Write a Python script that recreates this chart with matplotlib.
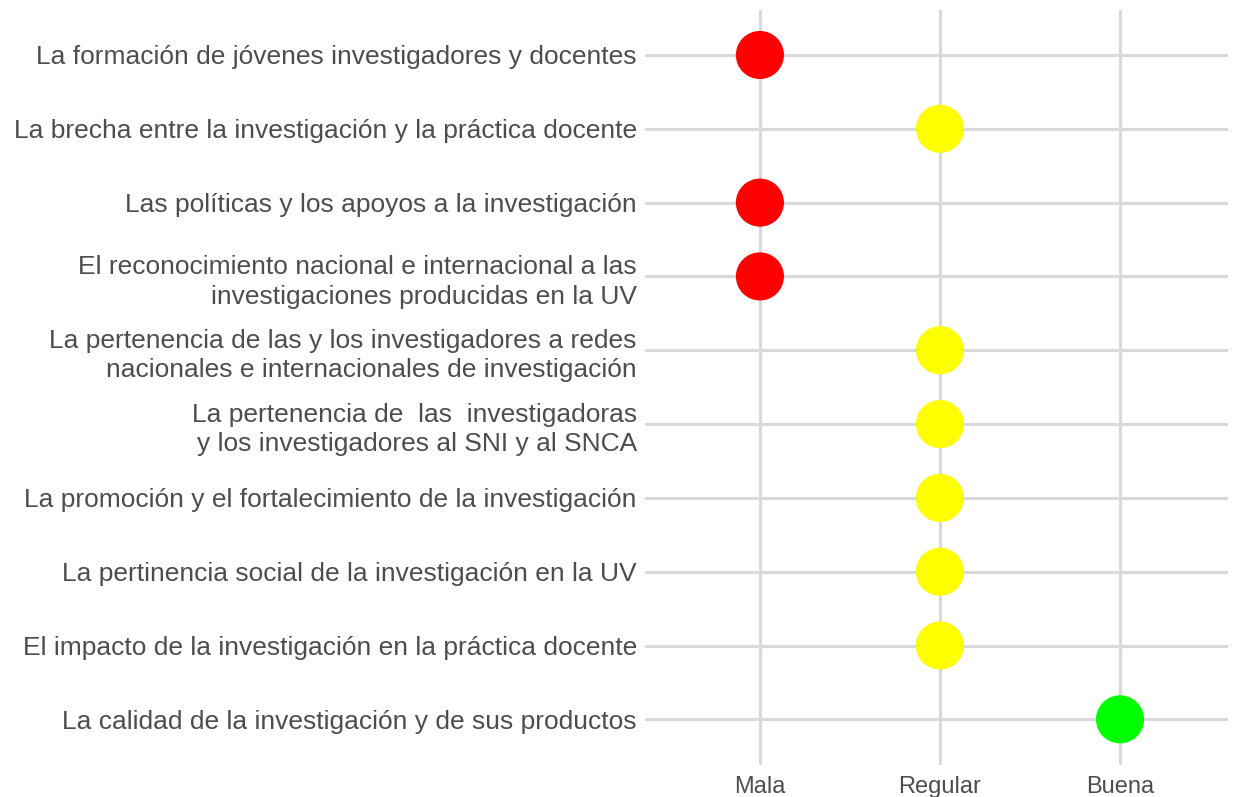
import matplotlib
matplotlib.use('Agg')
import matplotlib.pyplot as plt

# Categories (top to bottom) and their rating
categories = [
    'La formación de jóvenes investigadores y docentes',
    'La brecha entre la investigación y la práctica docente',
    'Las políticas y los apoyos a la investigación',
    'El reconocimiento nacional e internacional a las\ninvestigaciones producidas en la UV',
    'La pertenencia de las y los investigadores a redes\nnacionales e internacionales de investigación',
    'La pertenencia de  las  investigadoras\ny los investigadores al SNI y al SNCA',
    'La promoción y el fortalecimiento de la investigación',
    'La pertinencia social de la investigación en la UV',
    'El impacto de la investigación en la práctica docente',
    'La calidad de la investigación y de sus productos',
]
ratings = ['Mala', 'Regular', 'Mala', 'Mala', 'Regular',
           'Regular', 'Regular', 'Regular', 'Regular', 'Buena']
levels = ['Mala', 'Regular', 'Buena']
level_colors = {'Mala': '#ff0000', 'Regular': '#ffff00', 'Buena': '#00ff00'}

plt.rcParams['font.family'] = ['Liberation Sans', 'DejaVu Sans']

fig = plt.figure(figsize=(12.33, 7.97), dpi=100)
ax = fig.add_axes([0.523, 0.040, 0.473, 0.9475])

xs = [levels.index(r) + 1 for r in ratings]
ys = list(range(len(categories)))
ax.scatter(xs, ys, s=1200, c=[level_colors[r] for r in ratings],
           edgecolors='none', zorder=3)

ax.set_xlim(0.361, 3.6)
ax.set_ylim(9.62, -0.61)
ax.set_xticks([1, 2, 3])
ax.set_xticklabels(levels)
ax.set_yticks(ys)
ax.set_yticklabels(categories)

grid_col = '#d9d9d9'
ax.grid(True, color=grid_col, linewidth=2.2, zorder=0)
ax.set_axisbelow(True)
for sp in ax.spines.values():
    sp.set_visible(False)
ax.tick_params(axis='y', length=0, labelcolor='#4d4d4d', labelsize=19, pad=5.8)
ax.tick_params(axis='x', length=0, labelcolor='#4d4d4d', labelsize=17, pad=8)
for lab in ax.get_yticklabels():
    lab.set_linespacing(1.3)

fig.savefig('out.png', dpi=100)
